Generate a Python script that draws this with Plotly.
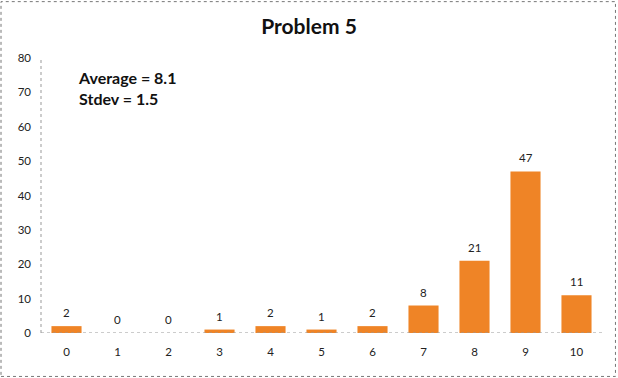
import plotly.graph_objects as go

categories = ["0", "1", "2", "3", "4", "5", "6", "7", "8", "9", "10"]
counts = [2, 0, 0, 1, 2, 1, 2, 8, 21, 47, 11]
y_ticks = [0, 10, 20, 30, 40, 50, 60, 70, 80]
title_text = "Problem 5"
stats_lines = ["Average = 8.1", "Stdev = 1.5"]

FONT = "Lato, 'Open Sans', sans-serif"

fig = go.Figure()
fig.add_trace(go.Bar(
    x=categories, y=counts,
    marker=dict(color="#EF8426", line=dict(width=0)),
    hoverinfo="x+y",
))

for c, v in zip(categories, counts):
    fig.add_annotation(x=c, y=v, text=str(v), showarrow=False,
                       xanchor="center", yanchor="bottom", yshift=5,
                       font=dict(family=FONT, size=11.5, color="#222222"))

fig.update_layout(
    width=618, height=378,
    margin=dict(l=41, r=16, t=58, b=45),
    paper_bgcolor="white", plot_bgcolor="white",
    showlegend=False,
    bargap=0.41,
    title=dict(text="<b>" + title_text + "</b>", x=0.5, xanchor="center",
               y=0.9286, yanchor="middle",
               font=dict(family=FONT, size=21, color="#111111")),
    xaxis=dict(type="category", showgrid=False, showline=False,
               ticks="", zeroline=False,
               tickfont=dict(family=FONT, size=11.5, color="#222222"),
               ticklabelstandoff=10),
    yaxis=dict(range=[0, 80], tickvals=y_ticks, showgrid=False,
               showline=False, ticks="", zeroline=False,
               tickfont=dict(family=FONT, size=11.5, color="#222222"),
               ticklabelstandoff=9),
)

# dotted axis lines
fig.add_shape(type="line", xref="paper", yref="y", x0=0, x1=1, y0=0, y1=0,
              line=dict(color="#999999", width=1, dash="dot"))
fig.add_shape(type="line", xref="paper", yref="y", x0=0, x1=0, y0=0, y1=80,
              line=dict(color="#999999", width=1, dash="dot"))

fig.add_annotation(
    text="<b>" + stats_lines[0] + "</b><br><b>" + stats_lines[1] + "</b>",
    xref="paper", yref="paper", x=0.062, y=0.97, xanchor="left", yanchor="top",
    align="left", showarrow=False,
    font=dict(family=FONT, size=16, color="#111111"),
)

fig.add_shape(type="rect", xref="paper", yref="paper",
              x0=-0.0713, x1=1.024, y0=-0.158, y1=1.205,
              line=dict(color="#777777", width=1, dash="dot"))

fig.write_html("out.html", config={"displayModeBar": False},
               post_script="document.body.style.margin='0';")
